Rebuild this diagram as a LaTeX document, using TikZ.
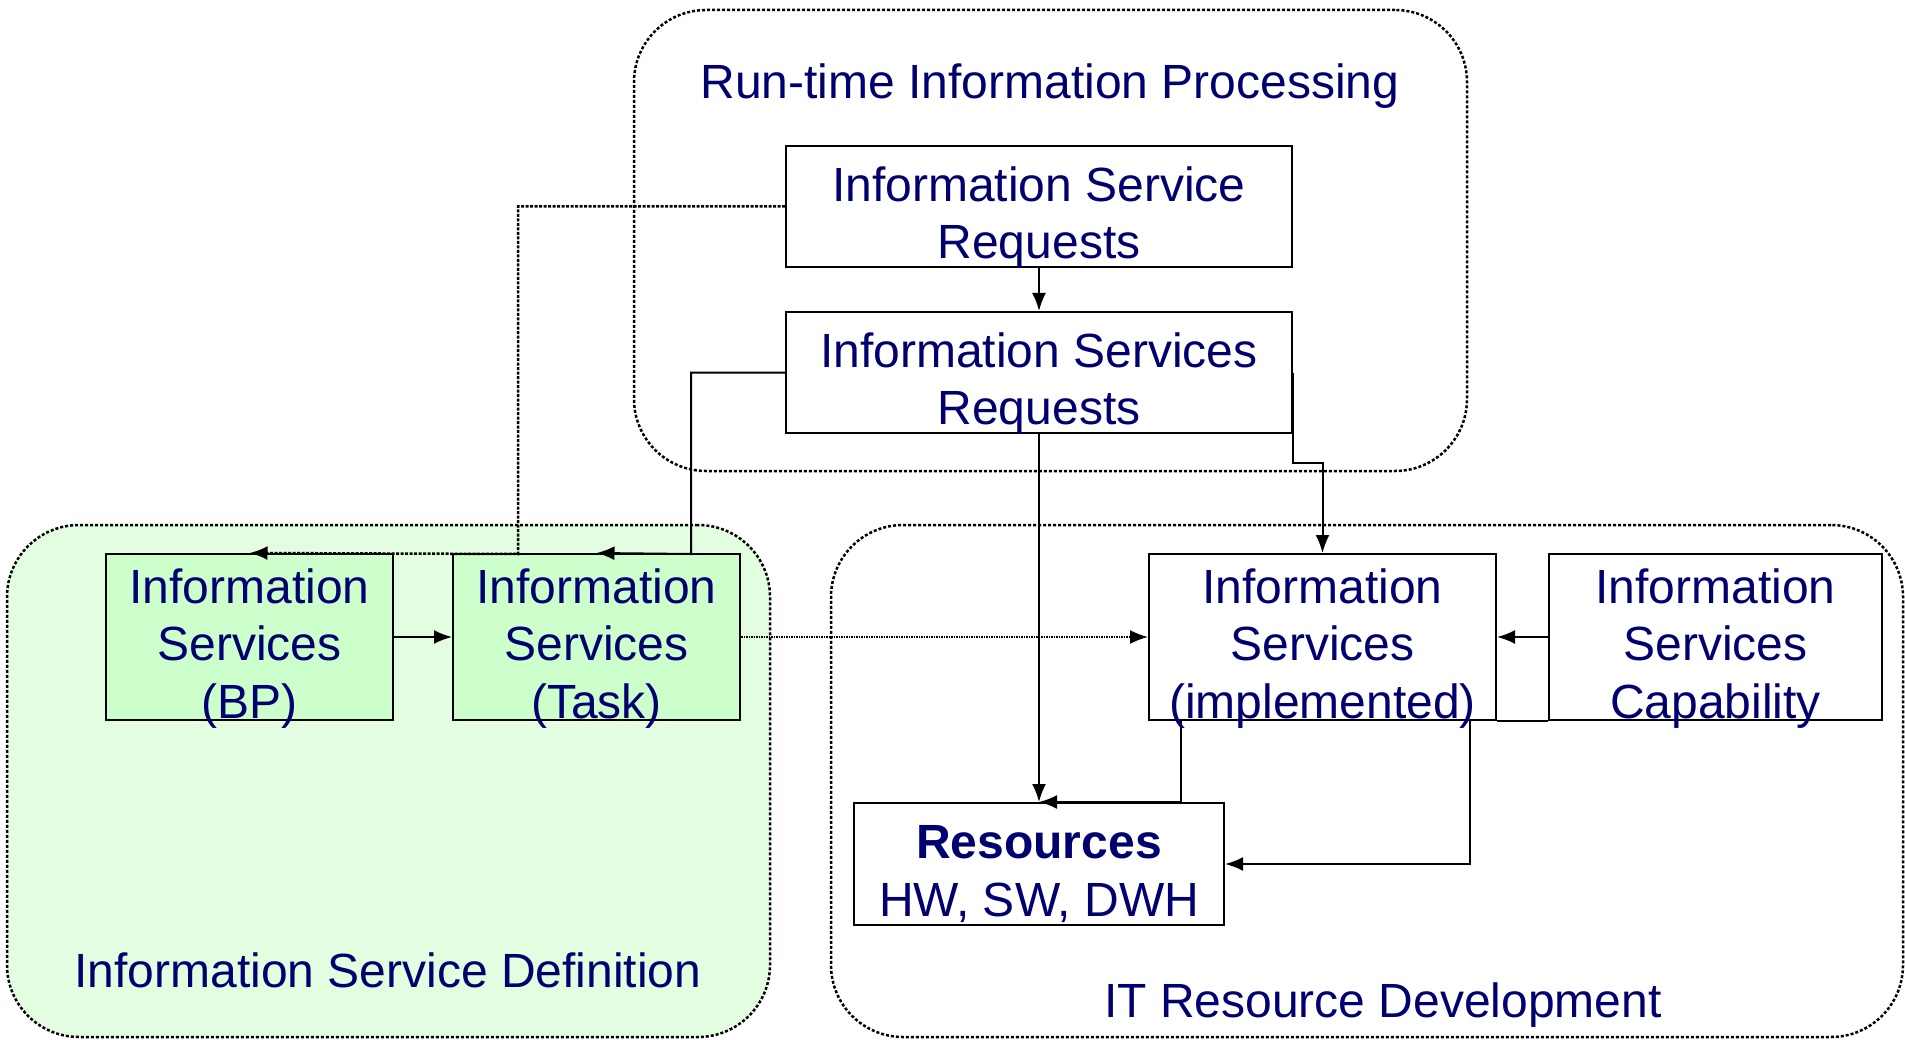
\documentclass[tikz,border=0pt]{standalone}
\usepackage{fontspec}
\setmainfont{Liberation Sans}
\usetikzlibrary{arrows.meta}
\definecolor{navy}{RGB}{0,0,110}
\definecolor{grnbg}{RGB}{226,253,224}
\definecolor{grnbox}{RGB}{204,255,204}
\begin{document}
\begin{tikzpicture}[x=1pt,y=-1pt,
  lbl/.style={text=navy, font=\fontsize{48}{57.7}\selectfont, align=center, inner sep=0pt},
  box/.style={draw=black, line width=2pt, inner sep=0pt, fill=white},
  gbox/.style={box, fill=grnbox},
  cont/.style={draw=black, line width=2.5pt, dash pattern=on 3pt off 2pt, rounded corners=72pt, inner sep=0pt},
  conn/.style={draw=black, line width=2pt, -{Latex[length=18pt,width=14pt]}},
  dotconn/.style={conn, line width=2.5pt, dash pattern=on 3pt off 1.5pt},
  fineconn/.style={conn, line width=1.8pt, dash pattern=on 1.5pt off 1pt},
  plain/.style={draw=black, line width=2pt}]
\useasboundingbox (0,0) rectangle (1905,1040);
% containers
\node[cont, fill=grnbg, minimum width=763pt, minimum height=512pt] (isd) at (388.5,781) {};
\node[cont, minimum width=833pt, minimum height=461pt] (rt) at (1050.5,240.5) {};
\node[cont, minimum width=1072pt, minimum height=512pt] (itr) at (1367,781) {};
\node[lbl, anchor=base] (rtt) at (1050,99) {Run-time Information Processing};
\node[lbl, anchor=base] (isdt) at (388,987) {Information Service Definition};
\node[lbl, anchor=base] (itrt) at (1383,1017) {IT Resource Development};
% boxes
\node[box, minimum width=506pt, minimum height=121pt] (isr) at (1039,206.5) {};
\node[box, minimum width=506pt, minimum height=121pt] (issr) at (1039,372.5) {};
\node[gbox, minimum width=287pt, minimum height=166pt] (bp) at (249.5,637) {};
\node[gbox, minimum width=287pt, minimum height=166pt] (task) at (596.5,637) {};
\node[box, minimum width=347pt, minimum height=166pt] (impl) at (1322.5,637) {};
\node[box, minimum width=333pt, minimum height=166pt] (cap) at (1715.5,637) {};
\node[box, minimum width=370pt, minimum height=122pt] (res) at (1039,864) {};
% coordinates
\coordinate (d1) at (518,554);
\coordinate (j1) at (691,554);
\coordinate (j2) at (1322.5,463);
\coordinate (j3) at (1181,720);
\coordinate (j4) at (1469.5,720);
% connectors
\draw[conn] (isr.south) -- (issr.north);
\draw[dotconn] (isr.west) -| (d1) -- (bp.north);
\draw[conn] (issr.west) -| (j1) -- (task.north);
\draw[conn] (bp.east) -- (task.west);
\draw[fineconn] (task.east) -- (impl.west);
\draw[conn] (issr.south) -- (res.north);
\draw[conn] (issr.east) |- (j2) -- (impl.north);
\draw[conn] (cap.west) -- (impl.east);
\draw[conn] (j3) |- (res.north);
\draw[conn] (j4) |- (res.east);
\draw[plain] (impl.south east) -- (cap.south west);
% labels
\node[lbl] (isrl) at (1039,217.5) {Information Service\\Requests};
\node[lbl] (issrl) at (1039,383.5) {Information Services\\Requests};
\node[lbl] (bpl) at (249.5,648.4) {Information\\Services\\(BP)};
\node[lbl] (taskl) at (596.5,648.4) {Information\\Services\\(Task)};
\node[lbl] (impll) at (1322.5,648.4) {Information\\Services\\(implemented)};
\node[lbl] (capl) at (1715.5,648.4) {Information\\Services\\Capability};
\node[lbl] (resl) at (1039,874) {\textbf{Resources}\\HW, SW, DWH};
\end{tikzpicture}
\end{document}
